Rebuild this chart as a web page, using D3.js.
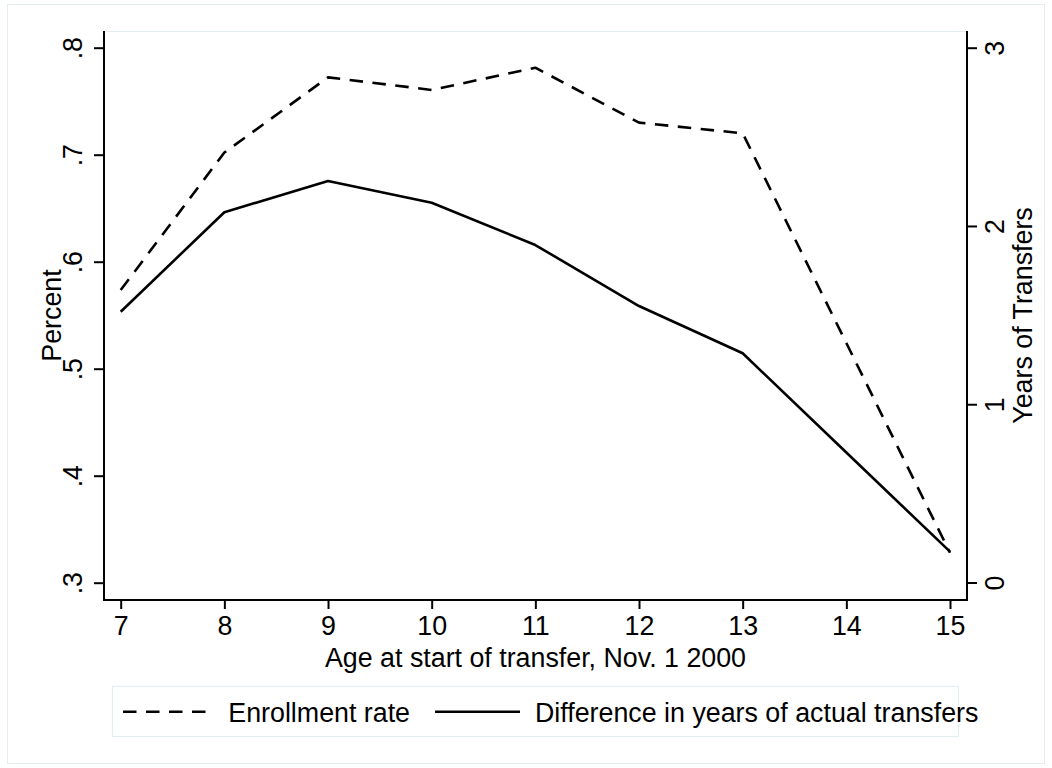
<!DOCTYPE html>
<html>
<head>
<meta charset="utf-8">
<script src="https://cdn.jsdelivr.net/npm/d3@7"></script>
<style>
  html, body { margin: 0; padding: 0; background: #fff; }
  svg text { font-family: "Liberation Sans", Arial, Helvetica, sans-serif; fill: #000; }
</style>
</head>
<body>
<svg id="chart" width="1052" height="768"></svg>
<script>
// ---- data ----
const ages = [7, 8, 9, 10, 11, 12, 13, 14, 15];
const enrollmentRate = [0.5735, 0.702, 0.7723, 0.7605, 0.7813, 0.730, 0.720, 0.524, 0.328];
const yearsOfTransfers = [1.519, 2.077, 2.252, 2.130, 1.893, 1.551, 1.286, 0.729, 0.173];
const xTicks = [7, 8, 9, 10, 11, 12, 13, 14, 15];
const leftTicks = [0.3, 0.4, 0.5, 0.6, 0.7, 0.8];
const leftTickLabels = [".3", ".4", ".5", ".6", ".7", ".8"];
const rightTicks = [0, 1, 2, 3];
const rightTickLabels = ["0", "1", "2", "3"];
const seriesNames = ["Enrollment rate", "Difference in years of actual transfers"];
const xTitle = "Age at start of transfer, Nov. 1 2000";
const yLeftTitle = "Percent";
const yRightTitle = "Years of Transfers";

// ---- layout ----
const svg = d3.select("#chart");
const W = 1052, H = 768;
const plot = { left: 104, right: 967, top: 31, bottom: 600 };
const FS = 26.8;
const frameColor = "#e6edf1";
const FF = '"Liberation Sans", Arial, sans-serif';

const x = d3.scaleLinear().domain([7, 15]).range([120.7, 950]);
const yL = d3.scaleLinear().domain([0.3, 0.8]).range([582.7, 47.7]);
const yR = d3.scaleLinear().domain([0, 3]).range([582.5, 47.7]);

// outer frame
svg.append("rect").attr("x", 7.5).attr("y", 4.5).attr("width", W - 15).attr("height", H - 9)
  .attr("fill", "#fff").attr("stroke", frameColor).attr("stroke-width", 1);

// plot region top border (light)
svg.append("line").attr("x1", plot.left).attr("x2", plot.right)
  .attr("y1", plot.top + 0.5).attr("y2", plot.top + 0.5)
  .attr("stroke", frameColor).attr("stroke-width", 1.2);

// axis lines
const axisG = svg.append("g").attr("stroke", "#000").attr("stroke-width", 2);
axisG.append("line").attr("x1", plot.left).attr("x2", plot.left).attr("y1", plot.top).attr("y2", plot.bottom + 1);
axisG.append("line").attr("x1", plot.right).attr("x2", plot.right).attr("y1", plot.top).attr("y2", plot.bottom + 1);
axisG.append("line").attr("x1", plot.left - 1).attr("x2", plot.right + 1).attr("y1", plot.bottom).attr("y2", plot.bottom);

// bottom axis
const bx = svg.append("g").attr("transform", `translate(0,${plot.bottom})`)
  .call(d3.axisBottom(x).tickValues(xTicks).tickSize(9).tickSizeOuter(0).tickFormat(d3.format("d")));
bx.select(".domain").remove();
bx.selectAll(".tick line").attr("stroke", "#000").attr("stroke-width", 2);
bx.selectAll(".tick text").attr("font-size", FS).attr("dy", null).attr("y", 35)
  .style("font-family", FF).attr("fill", "#000");

// left axis
const lx = svg.append("g").attr("transform", `translate(${plot.left},0)`)
  .call(d3.axisLeft(yL).tickValues(leftTicks).tickSize(10).tickSizeOuter(0)
    .tickFormat((d, i) => leftTickLabels[i]));
lx.select(".domain").remove();
lx.selectAll(".tick line").attr("stroke", "#000").attr("stroke-width", 2);
lx.selectAll(".tick text")
  .attr("x", null).attr("dy", null)
  .attr("text-anchor", "middle")
  .attr("transform", "translate(-22,0) rotate(-90)")
  .attr("font-size", FS)
  .style("font-family", FF).attr("fill", "#000");

// right axis
const rx = svg.append("g").attr("transform", `translate(${plot.right},0)`)
  .call(d3.axisRight(yR).tickValues(rightTicks).tickSize(10).tickSizeOuter(0)
    .tickFormat((d, i) => rightTickLabels[i]));
rx.select(".domain").remove();
rx.selectAll(".tick line").attr("stroke", "#000").attr("stroke-width", 2);
rx.selectAll(".tick text")
  .attr("x", null).attr("dy", null)
  .attr("text-anchor", "middle")
  .attr("transform", "translate(37,0) rotate(-90)")
  .attr("font-size", FS)
  .style("font-family", FF).attr("fill", "#000");

// axis titles
svg.append("text").attr("x", (plot.left + plot.right) / 2).attr("y", 666.7)
  .attr("text-anchor", "middle").attr("font-size", FS).text(xTitle);
svg.append("text").attr("transform", `translate(60.7,${(plot.top + plot.bottom) / 2}) rotate(-90)`)
  .attr("text-anchor", "middle").attr("font-size", FS).text(yLeftTitle);
svg.append("text").attr("transform", `translate(1032,${(plot.top + plot.bottom) / 2}) rotate(-90)`)
  .attr("text-anchor", "middle").attr("font-size", FS).text(yRightTitle);

// lines
const dash = "13.5,9.5";
const lineL = d3.line().x((d, i) => x(ages[i])).y(d => yL(d));
const lineR = d3.line().x((d, i) => x(ages[i])).y(d => yR(d));
svg.append("path").datum(enrollmentRate).attr("d", lineL)
  .attr("fill", "none").attr("stroke", "#000").attr("stroke-width", 2.6)
  .attr("stroke-dasharray", dash).attr("stroke-linejoin", "round");
svg.append("path").datum(yearsOfTransfers).attr("d", lineR)
  .attr("fill", "none").attr("stroke", "#000").attr("stroke-width", 2.6)
  .attr("stroke-linejoin", "round");

// legend
const lg = svg.append("g");
lg.append("rect").attr("x", 112.5).attr("y", 686.5).attr("width", 846).attr("height", 50)
  .attr("fill", "#fff").attr("stroke", frameColor).attr("stroke-width", 1.2);
const ly = 711.7, lty = 721.7;
lg.append("line").attr("x1", 123).attr("x2", 208).attr("y1", ly).attr("y2", ly)
  .attr("stroke", "#000").attr("stroke-width", 2.6).attr("stroke-dasharray", dash);
const t1 = lg.append("text").attr("x", 228.3).attr("y", lty).attr("font-size", FS).text(seriesNames[0]);
const t1end = 228.3 + t1.node().getComputedTextLength();
const s2 = t1end + 25;
lg.append("line").attr("x1", s2).attr("x2", s2 + 85).attr("y1", ly).attr("y2", ly)
  .attr("stroke", "#000").attr("stroke-width", 2.6);
lg.append("text").attr("x", 535).attr("y", lty).attr("font-size", FS).text(seriesNames[1]);
</script>
</body>
</html>
